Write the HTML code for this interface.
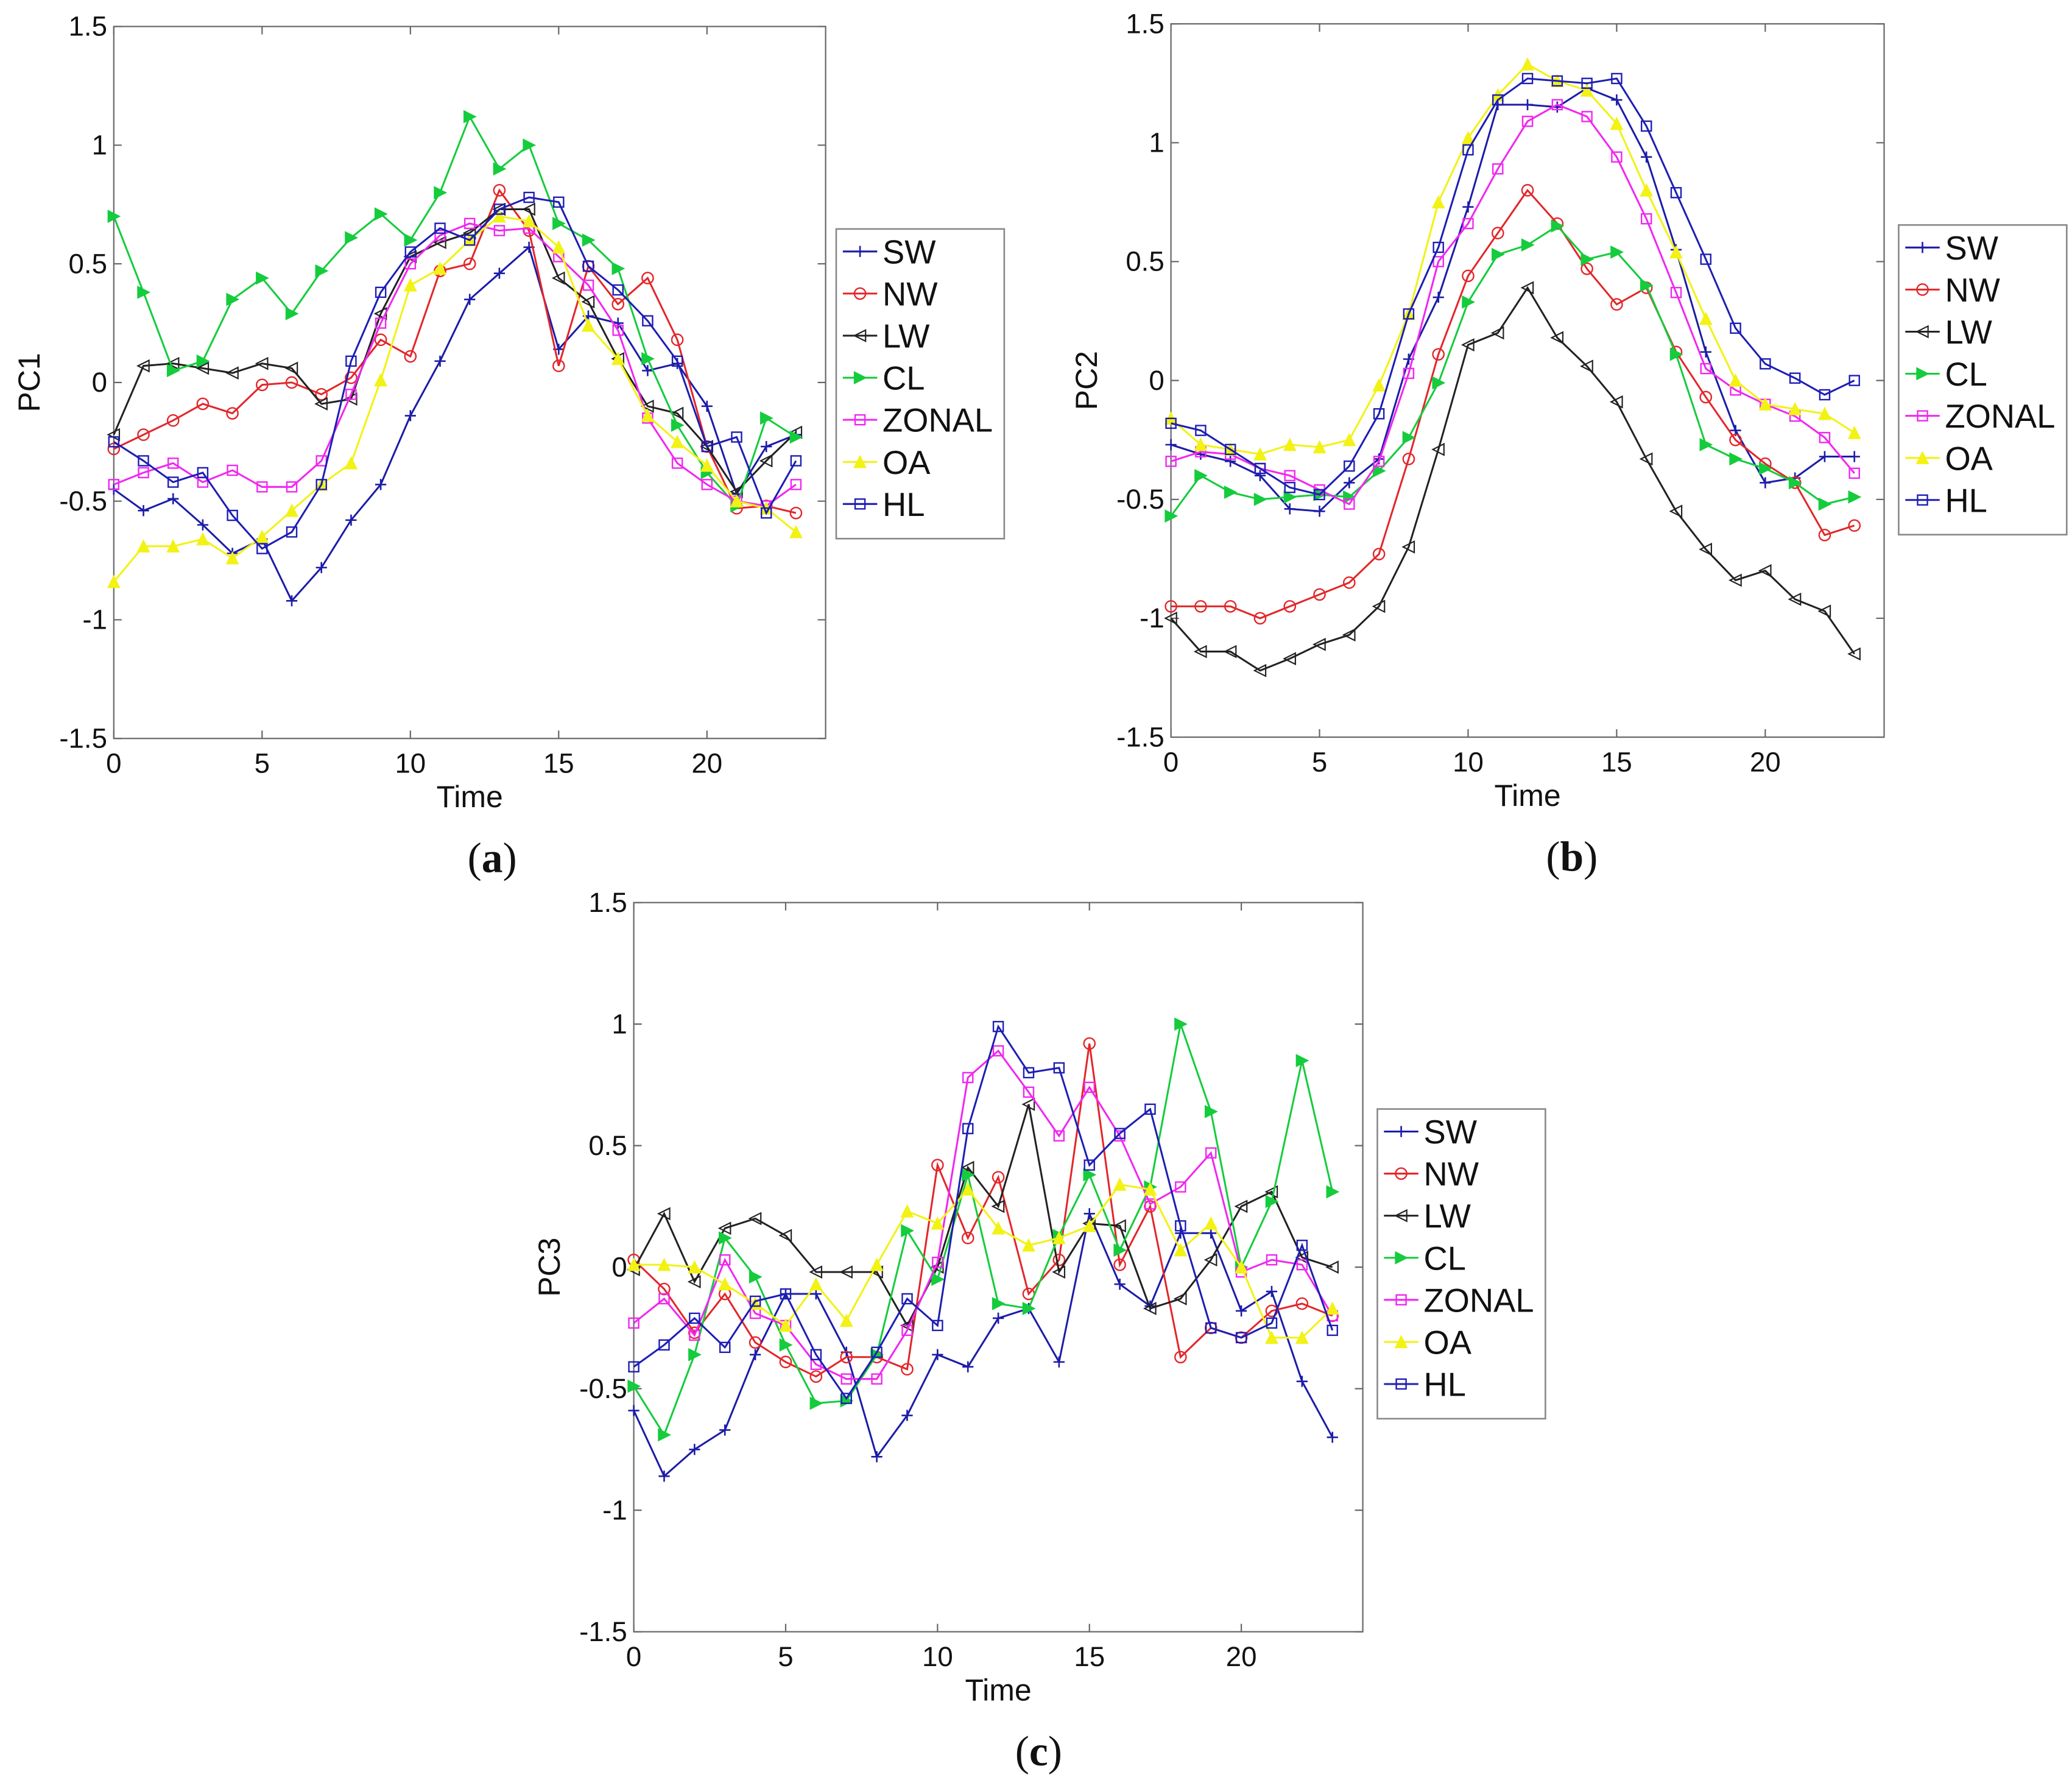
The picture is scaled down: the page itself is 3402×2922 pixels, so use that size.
<!DOCTYPE html>
<html><head><meta charset="utf-8"><style>html,body{margin:0;padding:0;background:#fff}svg{display:block}</style></head>
<body>
<svg id="fig" width="3402" height="2922" viewBox="0 0 1566 1345" xmlns="http://www.w3.org/2000/svg" font-family="Liberation Sans, sans-serif"></svg>
<script>
const hours = [0,1,2,3,4,5,6,7,8,9,10,11,12,13,14,15,16,17,18,19,20,21,22,23];
const seriesNames = ["SW","NW","LW","CL","ZONAL","OA","HL"];
const xTicks = [0,5,10,15,20];
const yTicks = [1.5,1,0.5,0,-0.5,-1,-1.5];
const yTickLabels = ["1.5","1","0.5","0","-0.5","-1","-1.5"];
// PC1
const pc1SW = [-0.45,-0.54,-0.49,-0.60,-0.72,-0.66,-0.92,-0.78,-0.58,-0.43,-0.14,0.09,0.35,0.46,0.57,0.14,0.28,0.25,0.05,0.08,-0.10,-0.47,-0.27,-0.22];
const pc1NW = [-0.28,-0.22,-0.16,-0.09,-0.13,-0.01,0.0,-0.05,0.02,0.18,0.11,0.47,0.50,0.81,0.64,0.07,0.49,0.33,0.44,0.18,-0.27,-0.53,-0.52,-0.55];
const pc1LW = [-0.22,0.07,0.08,0.06,0.04,0.08,0.06,-0.09,-0.07,0.29,0.53,0.59,0.63,0.73,0.73,0.44,0.34,0.10,-0.10,-0.13,-0.27,-0.46,-0.33,-0.21];
const pc1CL = [0.70,0.38,0.05,0.09,0.35,0.44,0.29,0.47,0.61,0.71,0.60,0.80,1.12,0.90,1.00,0.67,0.60,0.48,0.10,-0.18,-0.38,-0.52,-0.15,-0.23];
const pc1ZONAL = [-0.43,-0.38,-0.34,-0.42,-0.37,-0.44,-0.44,-0.33,-0.05,0.25,0.50,0.62,0.67,0.64,0.65,0.53,0.41,0.22,-0.15,-0.34,-0.43,-0.50,-0.52,-0.43];
const pc1OA = [-0.84,-0.69,-0.69,-0.66,-0.74,-0.65,-0.54,-0.43,-0.34,0.01,0.41,0.48,0.60,0.70,0.68,0.57,0.24,0.10,-0.14,-0.25,-0.35,-0.50,-0.53,-0.63];
const pc1HL = [-0.25,-0.33,-0.42,-0.38,-0.56,-0.70,-0.63,-0.43,0.09,0.38,0.55,0.65,0.60,0.73,0.78,0.76,0.49,0.39,0.26,0.09,-0.27,-0.23,-0.55,-0.33];
// PC2
const pc2SW = [-0.27,-0.31,-0.34,-0.40,-0.54,-0.55,-0.43,-0.33,0.09,0.35,0.73,1.16,1.16,1.15,1.23,1.18,0.94,0.55,0.12,-0.21,-0.43,-0.41,-0.32,-0.32];
const pc2NW = [-0.95,-0.95,-0.95,-1.0,-0.95,-0.90,-0.85,-0.73,-0.33,0.11,0.44,0.62,0.80,0.66,0.47,0.32,0.39,0.12,-0.07,-0.25,-0.35,-0.43,-0.65,-0.61];
const pc2LW = [-1.0,-1.14,-1.14,-1.22,-1.17,-1.11,-1.07,-0.95,-0.70,-0.29,0.15,0.20,0.39,0.18,0.06,-0.09,-0.33,-0.55,-0.71,-0.84,-0.80,-0.92,-0.97,-1.15];
const pc2CL = [-0.57,-0.40,-0.47,-0.50,-0.49,-0.48,-0.49,-0.38,-0.24,-0.01,0.33,0.53,0.57,0.65,0.51,0.54,0.40,0.11,-0.27,-0.33,-0.37,-0.43,-0.52,-0.49];
const pc2ZONAL = [-0.34,-0.30,-0.31,-0.37,-0.40,-0.46,-0.52,-0.34,0.03,0.50,0.66,0.89,1.09,1.16,1.11,0.94,0.68,0.37,0.05,-0.04,-0.10,-0.15,-0.24,-0.39];
const pc2OA = [-0.16,-0.27,-0.29,-0.31,-0.27,-0.28,-0.25,-0.02,0.28,0.75,1.02,1.20,1.33,1.26,1.22,1.08,0.80,0.54,0.26,0.00,-0.10,-0.12,-0.14,-0.22];
const pc2HL = [-0.18,-0.21,-0.29,-0.37,-0.45,-0.48,-0.36,-0.14,0.28,0.56,0.97,1.18,1.27,1.26,1.25,1.27,1.07,0.79,0.51,0.22,0.07,0.01,-0.06,0.00];
// PC3
const pc3SW = [-0.59,-0.86,-0.75,-0.67,-0.36,-0.11,-0.11,-0.35,-0.78,-0.61,-0.36,-0.41,-0.21,-0.17,-0.39,0.22,-0.07,-0.16,0.14,0.14,-0.18,-0.10,-0.47,-0.70];
const pc3NW = [0.03,-0.09,-0.27,-0.11,-0.31,-0.39,-0.45,-0.37,-0.37,-0.42,0.42,0.12,0.37,-0.11,0.03,0.92,0.01,0.25,-0.37,-0.25,-0.29,-0.18,-0.15,-0.20];
const pc3LW = [-0.01,0.22,-0.06,0.16,0.20,0.13,-0.02,-0.02,-0.02,-0.24,0.0,0.41,0.25,0.67,-0.02,0.18,0.17,-0.17,-0.13,0.03,0.25,0.31,0.04,0.0];
const pc3CL = [-0.49,-0.69,-0.36,0.12,-0.04,-0.32,-0.56,-0.55,-0.36,0.15,-0.05,0.38,-0.15,-0.17,0.13,0.38,0.07,0.33,1.0,0.64,0.0,0.27,0.85,0.31];
const pc3ZONAL = [-0.23,-0.13,-0.28,0.03,-0.19,-0.24,-0.40,-0.46,-0.46,-0.26,0.02,0.78,0.89,0.72,0.54,0.74,0.54,0.26,0.33,0.47,-0.02,0.03,0.01,-0.20];
const pc3OA = [0.01,0.01,0.0,-0.07,-0.15,-0.24,-0.07,-0.22,0.01,0.23,0.18,0.32,0.16,0.09,0.12,0.17,0.34,0.32,0.07,0.18,0.0,-0.29,-0.29,-0.17];
const pc3HL = [-0.41,-0.32,-0.21,-0.33,-0.14,-0.11,-0.36,-0.54,-0.35,-0.13,-0.24,0.57,0.99,0.80,0.82,0.42,0.55,0.65,0.17,-0.25,-0.29,-0.23,0.09,-0.26];

const colors = {SW:"#1c1ca8",NW:"#e3262a",LW:"#222",CL:"#14cc3c",ZONAL:"#f028f0",OA:"#f2f214",HL:"#1e1eb4"};
const markers = {SW:"plus",NW:"circle",LW:"triL",CL:"triR",ZONAL:"square",OA:"triU",HL:"square"};
const NS="http://www.w3.org/2000/svg";
const svg=document.getElementById('fig');
function el(tag,attrs,parent){const e=document.createElementNS(NS,tag);for(const k in attrs)e.setAttribute(k,attrs[k]);(parent||svg).appendChild(e);return e;}

function marker(g,type,cx,cy,col){
  const s=4.2;let m;
  if(type==="plus"){m=el('path',{d:`M${cx-s},${cy}H${cx+s}M${cx},${cy-s}V${cy+s}`,stroke:col,'stroke-width':1.2,fill:'none'},g);}
  else if(type==="circle"){m=el('circle',{cx,cy,r:s,stroke:col,'stroke-width':1.1,fill:'none'},g);}
  else if(type==="square"){m=el('rect',{x:cx-s+0.5,y:cy-s+0.5,width:2*s-1,height:2*s-1,stroke:col,'stroke-width':1.1,fill:'none'},g);}
  else if(type==="triL"){m=el('path',{d:`M${cx-s},${cy}L${cx+s},${cy-s}L${cx+s},${cy+s}Z`,stroke:col,'stroke-width':1,fill:'none'},g);}
  else if(type==="triR"){m=el('path',{d:`M${cx+s},${cy}L${cx-s},${cy-s}L${cx-s},${cy+s}Z`,stroke:col,'stroke-width':1,fill:col},g);}
  else if(type==="triU"){m=el('path',{d:`M${cx},${cy-s}L${cx+s},${cy+s}L${cx-s},${cy+s}Z`,stroke:col,'stroke-width':1,fill:col},g);}
  
  
}

function panel(cfg){
  const g=el('g',{});
  
  
  const {x0,x1,y0,y1}=cfg;
  const sx=v=>x0+(x1-x0)*v/24;
  const sy=v=>y0+(y1-y0)*(1.5-v)/3;
  const box=el('rect',{x:x0,y:y0,width:x1-x0,height:y1-y0,fill:'#fff',stroke:'#666','stroke-width':1},g);
  
  yTicks.forEach((v,i)=>{
    const y=sy(v);
    el('path',{d:`M${x0},${y}h6M${x1},${y}h-6`,stroke:'#666','stroke-width':1},g);
    const t=el('text',{x:x0-5,y:y+7,'font-size':21,'text-anchor':'end',fill:'#111'},g);
    t.textContent=yTickLabels[i];
    
  });
  xTicks.forEach(v=>{
    const x=sx(v);
    el('path',{d:`M${x},${y1}v-6M${x},${y0}v6`,stroke:'#666','stroke-width':1},g);
    const t=el('text',{x:x,y:y1+26,'font-size':21,'text-anchor':'middle',fill:'#111'},g);
    t.textContent=String(v);
    
  });
  const xt=el('text',{x:(x0+x1)/2,y:y1+52,'font-size':23,'text-anchor':'middle',fill:'#111'},g);
  xt.textContent='Time';
  const yc=(y0+y1)/2;
  const yt=el('text',{x:x0-56,y:yc,'font-size':23,'text-anchor':'middle',transform:`rotate(-90 ${x0-56} ${yc})`,fill:'#111'},g);
  yt.textContent=cfg.ylabel;
  seriesNames.forEach((n,si)=>{
    const vals=cfg.data[si];const col=colors[n];
    const sg=el('g',{},g);
    
    
    const d=vals.map((v,i)=>(i?'L':'M')+sx(hours[i]).toFixed(2)+','+sy(v).toFixed(2)).join('');
    const p=el('path',{d,stroke:col,'stroke-width':1.4,fill:'none'},sg);
    
    vals.forEach((v,i)=>marker(sg,markers[n],sx(hours[i]),sy(v),col));
  });
  // legend
  const lg=el('g',{},g);
  
  const lx=cfg.lx, ly=cfg.ly;
  el('rect',{x:lx,y:ly,width:127,height:234,fill:'#fff',stroke:'#888','stroke-width':1.2},lg);
  seriesNames.forEach((n,i)=>{
    const ey=ly+17+i*31.8;
    const eg=el('g',{},lg);
    
    el('path',{d:`M${lx+5},${ey}H${lx+31}`,stroke:colors[n],'stroke-width':1.4},eg);
    marker(eg,markers[n],lx+18,ey,colors[n]);
    const t=el('text',{x:lx+35,y:ey+9,'font-size':25,fill:'#111'},eg);
    t.textContent=n;
  });
  const cap=el('text',{x:cfg.capx,y:y1+101,'font-size':32,'text-anchor':'middle','font-family':'Liberation Serif, serif',fill:'#111'},g);
  const b=document.createElementNS(NS,'tspan');b.setAttribute('font-weight','bold');b.textContent=cfg.cap;
  cap.appendChild(document.createTextNode('('));cap.appendChild(b);cap.appendChild(document.createTextNode(')'));
  
}

panel({id:'panel-a-pc1',x0:86,x1:624,y0:20,y1:558,ylabel:'PC1',lx:632,ly:173,capx:372,cap:'a',
  data:[pc1SW,pc1NW,pc1LW,pc1CL,pc1ZONAL,pc1OA,pc1HL]});
panel({id:'panel-b-pc2',x0:885,x1:1424,y0:18,y1:557,ylabel:'PC2',lx:1435,ly:170,capx:1188,cap:'b',
  data:[pc2SW,pc2NW,pc2LW,pc2CL,pc2ZONAL,pc2OA,pc2HL]});
panel({id:'panel-c-pc3',x0:479,x1:1030,y0:682,y1:1233,ylabel:'PC3',lx:1041,ly:838,capx:785,cap:'c',
  data:[pc3SW,pc3NW,pc3LW,pc3CL,pc3ZONAL,pc3OA,pc3HL]});
</script>
</body></html>
